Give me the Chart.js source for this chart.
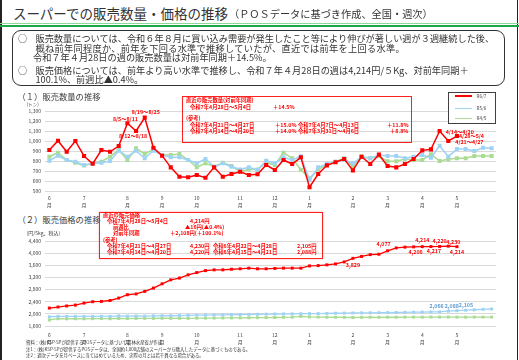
<!DOCTYPE html>
<html><head><meta charset="utf-8">
<script src="https://cdn.jsdelivr.net/npm/chart.js@4.4.0/dist/chart.umd.min.js"></script>
<style>
html,body{margin:0;padding:0;background:#fff;}
#page{position:relative;width:519px;height:360px;overflow:hidden;font-family:"Noto Sans CJK JP","Noto Sans",sans-serif;color:#333;}
.t{position:absolute;white-space:nowrap;}
canvas{position:absolute;}
.box{position:absolute;box-sizing:border-box;}
</style></head><body><div id="page">
<canvas id="c1" width="480" height="112" style="left:20px;top:100px;width:480px;height:112px"></canvas>
<canvas id="c2" width="480" height="120" style="left:20px;top:228px;width:480px;height:120px"></canvas>
</div>
<script>
// ---------- DATA ----------
const monthTicks = ["6","","","","7","","","","","8","","","","9","","","","10","","","","","11","","","","12","","","","1","","","","","2","","","","3","","","","4","","","","5","","","",""];
const seriesNames = ["R6/7","R5/6","R4/5"];
// 販売数量 (トン)
const qtyR67 = [912,1005,895,1002,853,776,912,895,952,1178,1101,1234,935,856,740,647,641,664,637,740,647,674,697,664,671,763,714,813,773,840,542,674,760,790,823,710,846,773,866,753,740,773,823,909,919,1101,1002,1051];
const qtyR56 = [806,856,813,796,763,780,786,803,906,846,906,830,906,863,840,840,813,780,823,746,780,746,720,740,714,806,780,840,813,850,614,740,773,796,813,780,843,830,863,853,853,830,846,863,836,955,846,922,922,902,935,929];
const qtyR45 = [846,886,813,786,757,780,796,846,912,813,929,873,919,863,863,873,813,740,780,746,786,753,697,720,720,786,763,886,830,717,631,720,763,796,830,753,850,830,850,800,800,823,813,813,870,803,820,830,830,853,853,853];
// 販売価格 (円/5kg)
const priceR67 = [2190,2225,2260,2290,2355,2400,2410,2440,2520,2630,2655,2740,2850,2990,3120,3180,3285,3360,3425,3450,3450,3470,3485,3505,3485,3485,3495,3505,3505,3505,3580,3590,3615,3645,3710,3829,3892,3952,3963,4077,4172,4197,4206,4214,4217,4220,4230,4214];
const priceR56 = [1905,1920,1915,1920,1918,1920,1922,1918,1935,1925,1930,1928,1935,1940,1938,1945,1950,1955,1958,1965,1968,1975,1978,1982,1985,1990,1995,1998,2000,2005,2008,2010,2015,2020,2025,2030,2032,2035,2040,2042,2045,2050,2055,2060,2062,2066,2088,2105,2120,2135,2150,2160];
const priceR45 = [1800,1840,1835,1840,1838,1842,1845,1840,1850,1845,1848,1852,1850,1855,1850,1855,1850,1858,1860,1862,1865,1868,1870,1872,1875,1878,1880,1885,1890,1920,1900,1895,1890,1888,1885,1880,1885,1888,1885,1890,1888,1890,1892,1890,1895,1893,1895,1892,1890,1895,1893,1895];
const qtyTicks = {min:500,max:1300,step:100};
const priceTicks = {min:1600,max:4400,step:400};

// ---------- STYLE ----------
const RED='#ff0000', BLUE='#9fd3f5', GREEN='#a9dc92';
const FONT='"Noto Sans CJK JP","Noto Sans",sans-serif';
const page=document.getElementById('page');
function T(str,x,cy,size,o){o=o||{};const d=document.createElement('div');d.className='t';d.textContent=str;
 const lh=Math.ceil(size*1.6);d.style.left=x+'px';d.style.top=(cy-lh/2-0.056*size)+'px';d.style.fontSize=size+'px';d.style.lineHeight=lh+'px';
 if(o.color)d.style.color=o.color;if(o.bold)d.style.fontWeight='bold';if(o.ls)d.style.letterSpacing=o.ls+'px';
 page.appendChild(d);return d;}
function B(x,y,w,h,css){const d=document.createElement('div');d.className='box';d.style.left=x+'px';d.style.top=y+'px';d.style.width=w+'px';d.style.height=h+'px';d.style.cssText+=css;page.appendChild(d);return d;}

// frame and header
B(0,0,1.5,360,'background:#222;');
B(516.5,0,1.5,360,'background:#222;');
T('スーパーでの販売数量・価格の推移',13,13.3,13.5,{color:'#333'});
T('（ＰＯＳデータに基づき作成、全国・週次）',229,14,10.2,{color:'#333'});
B(0,23.3,519,1.2,'background:#8fd89c;');
B(0,24.5,519,2,'background:#1fa64a;');
B(12,30,493,56,'border:1.3px solid #333;border-radius:9px;');
T('○',18,39.3,9.2);
T('販売数量については、令和６年８月に買い込み需要が発生したこと等により伸びが著しい週が３週継続した後、',35.5,39.3,9.2);
T('概ね前年同程度か、前年を下回る水準で推移していたが、直近では前年を上回る水準。',35.5,48.8,9.2,{ls:0.3});
T('令和７年４月28日の週の販売数量は対前年同期＋14.5%。',33,58.2,9.2);
T('○',18,71,9.2);
T('販売価格については、前年より高い水準で推移し、令和７年４月28日の週は4,214円/５Kg、対前年同期＋',35.5,71,9.2);
T('100.1%、前週比▲0.4%。',35.5,80.5,9.2);

T('（１）販売数量の推移',17.5,96,8.3,{color:'#404040'});
T('(トン)',26.5,104,4.6,{color:'#404040'});
T('（２）販売価格の推移',17.5,219.5,8.3,{color:'#404040'});
T('(円/5kg、税込)',26.5,233,5,{color:'#404040'});

// annotation box 1
B(182,96,230,47,'border:1.4px solid #ff2020;');
const rs=5.3, ro={color:RED,bold:true};
T('直近の販売数量(対前年同期)',186,101,rs,ro);
T('令和7年4月28日～5月4日',190,107.5,rs,ro); T('＋14.5%',273,107.5,rs,ro);
T('(参考)',186,119,rs,ro);
T('令和7年4月21日～4月27日',190,125.5,rs,ro); T('＋15.0%',275,125.5,rs,ro); T('令和7年4月7日～4月13日',298,125.5,rs,ro); T('＋11.8%',387,125.5,rs,ro);
T('令和7年4月14日～4月20日',190,132,rs,ro); T('＋14.0%',275,132,rs,ro); T('令和7年3月31日～4月6日',298,132,rs,ro); T('＋8.8%',390,132,rs,ro);

// legend
B(448,91.5,47.5,32,'border:1.8px solid #404040;background:#fff;');
[[RED,95.8],[BLUE,108.3],[GREEN,118.3]].forEach((c,k)=>{B(455,c[1]-0.75,17,1.5,'background:'+c[0]+';');T(seriesNames[k],476.5,c[1],4.6,{color:'#404040'});});

// annotation box 2
B(99,212,224,47,'border:1.6px solid #ff2020;box-shadow:0 0 1.5px #ff9090;');
T('直近の販売価格',103,215.5,rs,ro);
T('令和7年4月28日～5月4日',107,221.8,rs,ro); T('4,214円',190,221.8,rs,ro);
T('前週比',113,228,rs,ro); T('▲16円(▲0.4%)',185,228,rs,ro);
T('対前年同期',113,234,rs,ro); T('＋2,108円(＋100.1%)',170,234,rs,ro);
T('(参考)',103,240.5,rs,ro);
T('令和7年4月21日～4月27日',107,246.5,rs,ro); T('4,230円',190,246.5,rs,ro); T('令和6年4月22日～4月28日',213,246.5,rs,ro); T('2,105円',297,246.5,rs,ro);
T('令和7年4月14日～4月20日',107,252.5,rs,ro); T('4,220円',190,252.5,rs,ro); T('令和6年4月15日～4月21日',213,252.5,rs,ro); T('2,088円',297,252.5,rs,ro);

// footnotes
T('資料：(株)KSP-SPが提供するPOSデータに基づいて農林水産省が作成',26,342.3,4.4,{color:'#333'});
T('注1：(株)KSP-SPが提供するPOSデータは、全国約1,000店舗のスーパーから購入したデータに基づくものである。',26,349,4.4,{color:'#333'});
T('注2：週次データを月ベースに当てはめているため、実際の月とは若干異なる場合がある。',26,355.7,4.4,{color:'#333'});

// ---------- CHARTS ----------
const fmt=v=>v.toLocaleString('en-US');
const ptLabels={id:'ptLabels',afterDatasetsDraw(chart,args,opts){const ctx=chart.ctx;(opts.items||[]).forEach(it=>{const el=chart.getDatasetMeta(it.ds).data[it.i];if(!el)return;ctx.save();ctx.font=opts.font;ctx.fillStyle=it.color||opts.color;ctx.textAlign=it.align||'center';ctx.textBaseline='middle';ctx.fillText(it.text,el.x+(it.dx||0),el.y+(it.dy||0));ctx.restore();});}};

function ds(label,data,color,lw,r,order){return {label,data,borderColor:color,backgroundColor:color,borderWidth:lw,pointStyle:'rect',pointRadius:r,pointBorderWidth:0,tension:0,order};}
function mk(id,datasets,tk,yW,xH,pad,xPad,items){
 return new Chart(document.getElementById(id),{type:'line',data:{labels:monthTicks,datasets},
  options:{responsive:false,devicePixelRatio:1,animation:false,layout:{padding:pad},
   plugins:{legend:{display:false},tooltip:{enabled:false},ptLabels:{font:'bold 5.3px '+FONT,color:RED,items}},
   scales:{
    x:{offset:true,grid:{display:false,drawTicks:false,tickLength:0},border:{display:false},
       ticks:{autoSkip:false,maxRotation:0,minRotation:0,padding:xPad,color:'#404040',font:{size:5,family:FONT,lineHeight:1.4},callback:(v,i)=>monthTicks[i]?[monthTicks[i],'月']:''},
       afterFit:s=>{s.height=xH;}},
    y:{min:tk.min,max:tk.max,grid:{color:'#d9d9d9',lineWidth:1,drawTicks:false,tickLength:0},border:{display:false},
       ticks:{stepSize:tk.step,padding:4,color:'#404040',font:{size:5,family:FONT},callback:v=>fmt(v)},
       afterFit:s=>{s.width=yW;}}
   }},plugins:[ptLabels]});
}
mk('c1',[ds(seriesNames[2],qtyR45,GREEN,1.6,2.8,3),ds(seriesNames[1],qtyR56,BLUE,1.6,2.8,2),ds(seriesNames[0],qtyR67,RED,1.5,2.9,1)],
  qtyTicks,25,20.5,{top:11,right:3,left:0,bottom:0},3,
  [{ds:2,i:9,text:'8/5～8/11',dx:-2,dy:-4},{ds:2,i:11,text:'8/19～8/25',dx:1,dy:-6},{ds:2,i:10,text:'8/12～8/18',dx:-3,dy:5},
   {ds:2,i:45,text:'4/14～4/20',dx:6,dy:0.5,align:'left'},{ds:2,i:47,text:'4/28～5/4',dx:2,dy:0,align:'left'},{ds:2,i:46,text:'4/21～4/27',dx:7,dy:1,align:'left'}]);
mk('c2',[ds(seriesNames[2],priceR45,GREEN,1.3,2.1,3),ds(seriesNames[1],priceR56,BLUE,1.3,2.1,2),ds(seriesNames[0],priceR67,RED,1.3,2.1,1)],
  priceTicks,25,22,{top:13,right:4,left:0,bottom:0},5.5,
  [{ds:2,i:35,text:fmt(priceR67[35]),dy:7},{ds:2,i:39,text:fmt(priceR67[39]),dx:-4,dy:-6.5},{ds:2,i:42,text:fmt(priceR67[42]),dx:2,dy:5},
   {ds:2,i:43,text:fmt(priceR67[43]),dy:-6.5},{ds:2,i:44,text:fmt(priceR67[44]),dx:3,dy:4},{ds:2,i:45,text:fmt(priceR67[45]),dy:-5},
   {ds:2,i:46,text:fmt(priceR67[46]),dx:5,dy:-4.5},{ds:2,i:47,text:fmt(priceR67[47]),dy:5.5},
   {ds:1,i:45,text:fmt(priceR56[45]),dx:-3,dy:-6,color:'#5b9bd5'},{ds:1,i:46,text:fmt(priceR56[46]),dx:3.5,dy:-5,color:'#5b9bd5'},{ds:1,i:47,text:fmt(priceR56[47]),dx:9,dy:-6,color:'#5b9bd5'}]);
</script></body></html>
